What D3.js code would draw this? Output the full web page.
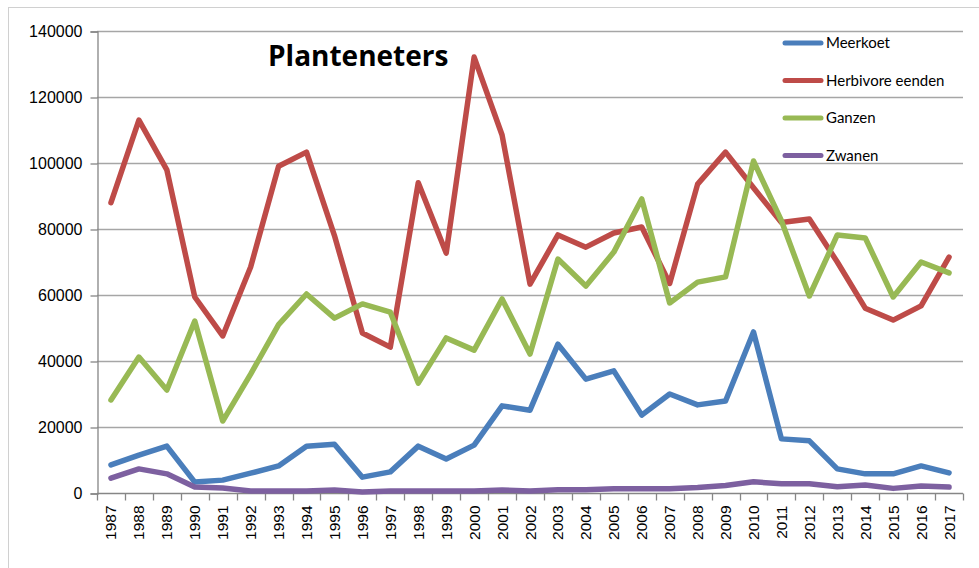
<!DOCTYPE html>
<html>
<head>
<meta charset="utf-8">
<script src="https://cdnjs.cloudflare.com/ajax/libs/d3/7.8.5/d3.min.js"></script>
<style>
  body { margin: 0; background: #fff; }
  svg { display: block; }
</style>
</head>
<body>
<div id="chart"></div>
<script>
// Data
const years = d3.range(1987, 2018).map(String);
const meerkoet = [8500, 11500, 14200, 3300, 3900, 6000, 8200, 14200, 14800, 4800, 6400, 14200, 10300, 14500, 26400, 25100, 45100, 34500, 37000, 23600, 30000, 26700, 27900, 48800, 16400, 15800, 7300, 5800, 5800, 8200, 6100];
const herbivoreEenden = [88000, 113000, 97900, 59400, 47600, 68500, 99000, 103300, 78000, 48500, 44200, 94000, 72700, 132100, 108500, 63300, 78200, 74500, 78800, 80600, 63500, 93600, 103300, 92500, 82000, 83000, 70000, 56000, 52400, 56700, 71500];
const ganzen = [28200, 41200, 31200, 52100, 21800, 36000, 51000, 60300, 53000, 57300, 54800, 33300, 47000, 43300, 58800, 42100, 70900, 62700, 73000, 89100, 57600, 63900, 65500, 100600, 82500, 59700, 78200, 77300, 59400, 70000, 66700];
const zwanen = [4500, 7300, 5800, 1800, 1500, 600, 600, 600, 900, 300, 600, 600, 600, 600, 900, 600, 1000, 1000, 1300, 1300, 1300, 1700, 2300, 3400, 2800, 2800, 1900, 2400, 1400, 2100, 1800];
const yTicks = [0, 20000, 40000, 60000, 80000, 100000, 120000, 140000];

const seriesNames = ["Meerkoet", "Herbivore eenden", "Ganzen", "Zwanen"];
const seriesValues = [meerkoet, herbivoreEenden, ganzen, zwanen];
const colors = ["#4a7ebb", "#be4b48", "#98b954", "#7d60a0"];

const w = 979, h = 568;
const plotLeft = 97, plotRight = 963, plotTop = 31, plotBottom = 493;

const svg = d3.select("#chart").append("svg")
  .attr("width", w)
  .attr("height", h);

// chart frame
svg.append("rect")
  .attr("x", 8.5).attr("y", 7.5)
  .attr("width", 1000).attr("height", 1000)
  .attr("fill", "none")
  .attr("stroke", "#d0d0d0");

const x = d3.scaleBand().domain(years).range([plotLeft, plotRight]);
const y = d3.scaleLinear().domain([0, 140000]).range([plotBottom, plotTop]);

// gridlines
svg.append("g")
  .selectAll("line")
  .data(yTicks.slice(1))
  .enter()
  .append("line")
  .attr("x1", plotLeft).attr("x2", plotRight)
  .attr("y1", d => Math.round(y(d)) + 0.5)
  .attr("y2", d => Math.round(y(d)) + 0.5)
  .attr("stroke", "#a6a6a6")
  .attr("stroke-width", 1.3);

// y axis
const yAxis = svg.append("g")
  .attr("transform", "translate(" + (plotLeft + 0.5) + ",0.5)")
  .call(d3.axisLeft(y).tickValues(yTicks).tickSize(7).tickPadding(8).tickFormat(d3.format("d")));
yAxis.selectAll("path, line").attr("stroke", "#868686").attr("stroke-width", 1.3);
yAxis.selectAll("text")
  .attr("font-family", "Liberation Sans, Arial, sans-serif")
  .attr("font-size", "16px")
  .attr("fill", "#000");

// x axis with ticks at category boundaries
const xAxis = svg.append("g")
  .attr("transform", "translate(0," + (plotBottom + 0.5) + ")");
xAxis.append("line")
  .attr("x1", plotLeft).attr("x2", plotRight)
  .attr("stroke", "#868686").attr("stroke-width", 1.3);
xAxis.selectAll(".tk")
  .data(years.concat(["end"]))
  .enter()
  .append("line")
  .attr("class", "tk")
  .attr("x1", (d, i) => Math.round(plotLeft + i * x.step()) + 0.5)
  .attr("x2", (d, i) => Math.round(plotLeft + i * x.step()) + 0.5)
  .attr("y1", 0).attr("y2", 7)
  .attr("stroke", "#868686").attr("stroke-width", 1.3);
xAxis.selectAll("text")
  .data(years)
  .enter()
  .append("text")
  .attr("transform", d => "translate(" + (x(d) + x.bandwidth() / 2 + 5.5) + ",12) rotate(-90)")
  .attr("text-anchor", "end")
  .attr("font-family", "Liberation Sans, Arial, sans-serif")
  .attr("font-size", "15.5px")
  .attr("fill", "#000")
  .text(d => d);

// lines
const line = d3.line()
  .x((d, i) => x(years[i]) + x.bandwidth() / 2)
  .y(d => y(d));

svg.append("g")
  .selectAll("path")
  .data(seriesValues)
  .enter()
  .append("path")
  .attr("d", d => line(d))
  .attr("fill", "none")
  .attr("stroke", (d, i) => colors[i])
  .attr("stroke-width", 5.5)
  .attr("stroke-linejoin", "round")
  .attr("stroke-linecap", "round");

// title
svg.append("text")
  .attr("x", 268).attr("y", 66)
  .attr("font-family", "Open Sans, sans-serif")
  .attr("font-weight", "bold")
  .attr("font-size", "28px")
  .attr("fill", "#000")
  .text("Planteneters");

// legend
const legend = svg.append("g")
  .selectAll("g")
  .data(seriesNames)
  .enter()
  .append("g")
  .attr("transform", (d, i) => "translate(783," + (43 + i * 37.5) + ")");
legend.append("line")
  .attr("x1", 2).attr("x2", 38)
  .attr("stroke", (d, i) => colors[i])
  .attr("stroke-width", 5)
  .attr("stroke-linecap", "round");
legend.append("text")
  .attr("x", 43).attr("y", 5)
  .attr("font-family", "Lato, sans-serif")
  .attr("font-size", "15px")
  .attr("fill", "#000")
  .text(d => d);
</script>
</body>
</html>
